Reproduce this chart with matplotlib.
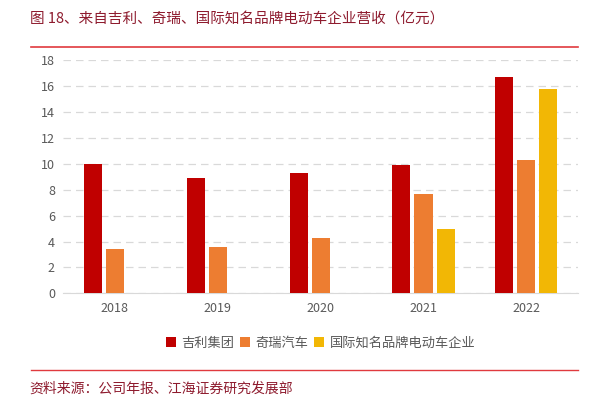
import matplotlib
matplotlib.use("Agg")
import matplotlib.pyplot as plt
import numpy as np
from matplotlib.lines import Line2D

plt.rcParams['font.family'] = ['Noto Sans CJK SC', 'DejaVu Sans']

years = ['2018', '2019', '2020', '2021', '2022']
series_names = ['吉利集团', '奇瑞汽车', '国际知名品牌电动车企业']
geely = [10.0, 8.92, 9.25, 9.9, 16.65]
chery = [3.4, 3.55, 4.25, 7.67, 10.3]
intl = [np.nan, np.nan, np.nan, 4.97, 15.75]
colors = ['#C00000', '#ED7D31', '#F2B705']

fig = plt.figure(figsize=(6.02, 3.97), dpi=100)
ax = fig.add_axes([0.105, 0.261, 0.855, 0.588])

x = np.arange(len(years))
w = 0.175
step = 0.214
for i, (vals, c, name) in enumerate(zip([geely, chery, intl], colors, series_names)):
    ax.bar(x + (i - 1) * step, vals, width=w, color=c, label=name, zorder=3)

ax.set_xlim(-0.5, len(years) - 0.5)
ax.set_ylim(0, 18)
ax.set_yticks(np.arange(0, 19, 2))
ax.set_xticks(x)
ax.set_xticklabels(years)
ax.grid(axis='y', color='#D9D9D9', linestyle=(0, (6, 4)), linewidth=0.9, zorder=0)
for s in ['top', 'right', 'left']:
    ax.spines[s].set_visible(False)
ax.spines['bottom'].set_color('#D9D9D9')
ax.tick_params(axis='both', length=0, labelsize=9, colors='#595959', pad=6)

ax.legend(loc='upper center', bbox_to_anchor=(0.5, -0.135), ncol=3, frameon=False,
          fontsize=9.5, handlelength=0.8, handleheight=0.8, handletextpad=0.4,
          columnspacing=0.4, labelcolor='#595959')

fig.text(0.05, 0.953, '图 18、来自吉利、奇瑞、国际知名品牌电动车企业营收（亿元）',
         fontsize=10.5, color='#8E1B2E', va='center', ha='left')
fig.add_artist(Line2D([0.052, 0.96], [0.882, 0.882], color='#E03A3E', linewidth=1.2))
fig.add_artist(Line2D([0.052, 0.96], [0.068, 0.068], color='#E03A3E', linewidth=1.0))
fig.text(0.048, 0.022, '资料来源：公司年报、江海证券研究发展部', fontsize=10, color='#8E1B2E',
         va='center', ha='left')

fig.savefig('out.png', dpi=100)
